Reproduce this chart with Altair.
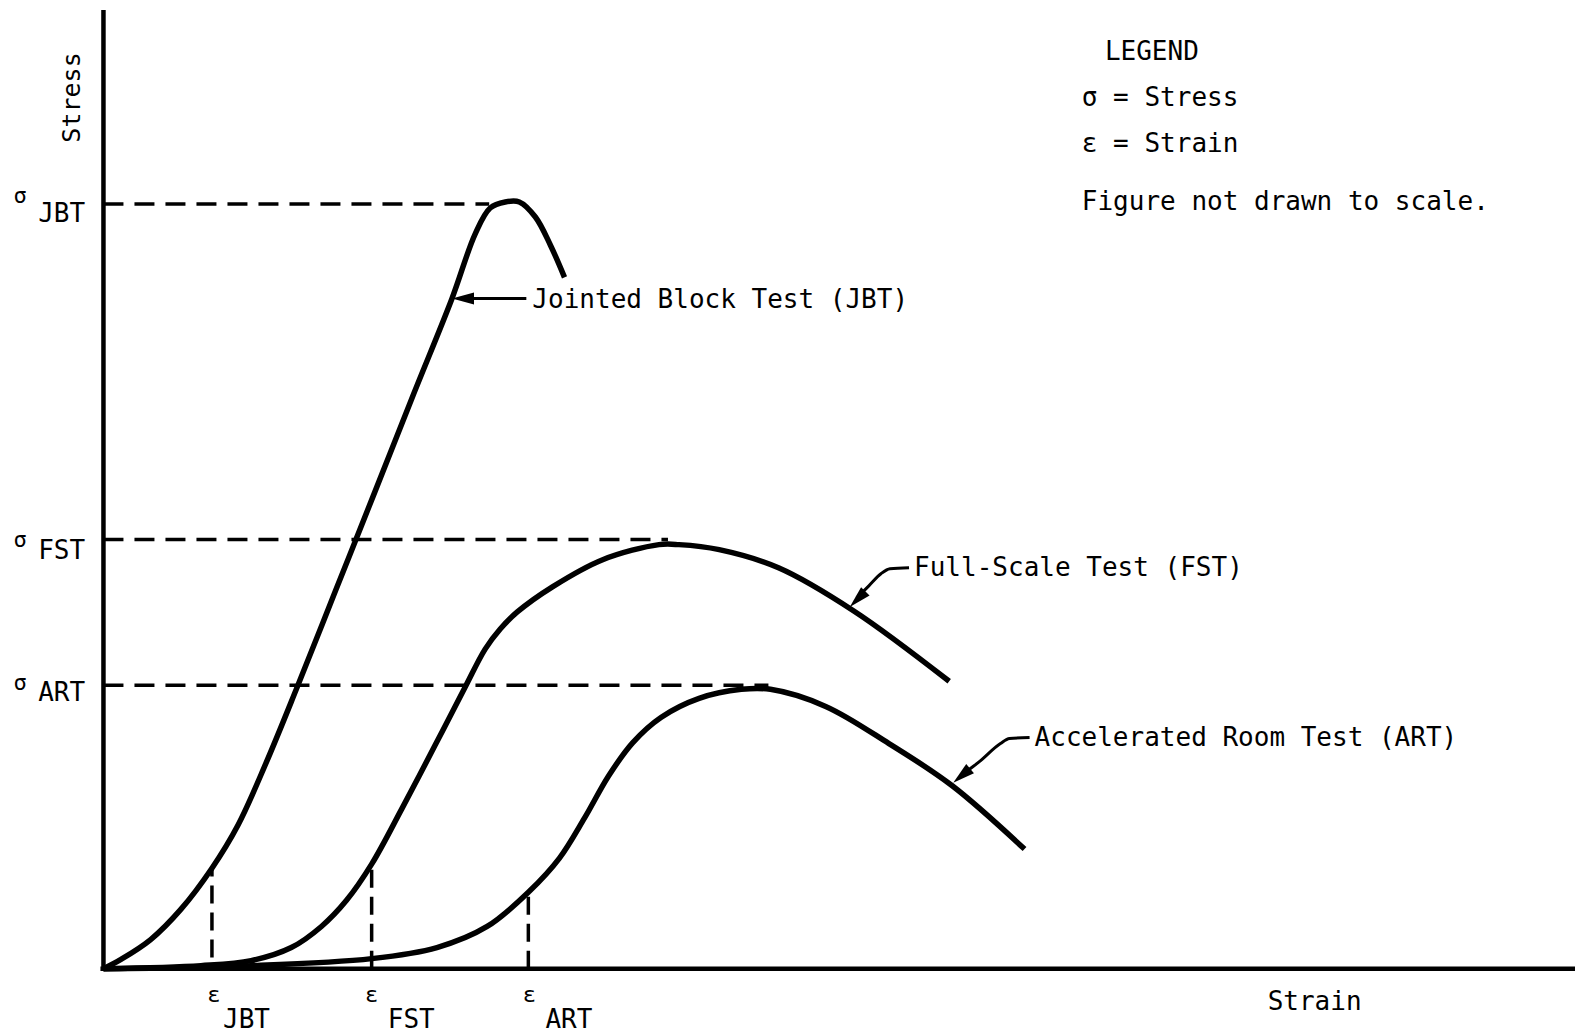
import altair as alt
import pandas as pd

# Schematic stress-strain curves, in drawing units (origin at the axes corner)
jbt_strain = [0, 17, 47, 77, 108, 134, 162, 192, 231, 270, 308, 347, 370, 385, 400, 414, 430, 445, 459]
jbt_stress = [0, 9, 29, 59, 100, 143, 205, 278, 376, 474, 570, 667, 731, 757, 763, 763, 748, 720, 688]

fst_strain = [0, 97, 147, 187, 217, 242, 267, 297, 330, 360, 380, 395, 412, 447, 497, 553, 573, 613, 672, 747, 842]
fst_stress = [0, 3, 8, 21, 42, 68, 104, 159, 222, 280, 318, 338, 355, 380, 407, 422, 422, 417, 399, 356, 286]

art_strain = [0, 147, 267, 332, 382, 424, 454, 479, 503, 527, 555, 593, 635, 664, 719, 782, 845, 917]
art_stress = [0, 3, 10, 21, 42, 77, 110, 150, 192, 225, 250, 269, 278, 278, 261, 224, 182, 119]

tests = ["JBT", "FST", "ART"]
peak_stress = [761, 427, 282]
peak_strain = [384, 562, 662]
eps_strain = [108, 267, 423]
eps_base = [11, 0, 0]
eps_top = [100, 104, 77]
curve_names = ["Jointed Block Test (JBT)", "Full-Scale Test (FST)", "Accelerated Room Test (ART)"]

FONT = "DejaVu Sans Mono"
X = alt.Scale(domain=[-103, 1465], nice=False, zero=False)
Y = alt.Scale(domain=[-67, 964], nice=False, zero=False)


def xy(x="x", y="y"):
    return dict(x=alt.X(f"{x}:Q", scale=X, axis=None), y=alt.Y(f"{y}:Q", scale=Y, axis=None))


curves = pd.concat([
    pd.DataFrame({"x": jbt_strain, "y": jbt_stress, "test": "JBT"}),
    pd.DataFrame({"x": fst_strain, "y": fst_stress, "test": "FST"}),
    pd.DataFrame({"x": art_strain, "y": art_stress, "test": "ART"}),
])

curve_layer = alt.Chart(curves).mark_line(
    color="black", strokeWidth=5.5, interpolate="catmull-rom"
).encode(**xy(), detail="test:N")

# Axes drawn as plain rules
axes_df = pd.DataFrame({"x": [0, -3], "x2": [0, 1465], "y": [-2, 0], "y2": [954, 0]})
axes_layer = alt.Chart(axes_df).mark_rule(color="black", strokeWidth=4.5).encode(
    **xy(), x2="x2:Q", y2="y2:Q"
)

# Dashed guides to peak stress and to strain marks
sig_df = pd.DataFrame({"x": [0] * 3, "x2": peak_strain, "y": peak_stress})
sig_layer = alt.Chart(sig_df).mark_rule(color="black", strokeWidth=3.5, strokeDash=[20, 11]).encode(
    **xy(), x2="x2:Q"
)
eps_df = pd.DataFrame({"x": eps_strain, "y": eps_base, "y2": eps_top})
eps_layer = alt.Chart(eps_df).mark_rule(color="black", strokeWidth=3.5, strokeDash=[18, 9]).encode(
    **xy(), y2="y2:Q"
)

# Leader lines from the curve names
leaders = pd.DataFrame({
    "x": [421, 362, 802, 783, 774, 762, 750, 922, 902, 893, 872, 859, 852],
    "y": [667, 667, 399, 398, 393, 381, 369, 230, 229, 224, 206, 196, 190],
    "g": ["a", "a", "b", "b", "b", "b", "b", "c", "c", "c", "c", "c", "c"],
})
leader_layer = alt.Chart(leaders).mark_line(color="black", strokeWidth=3, interpolate="monotone").encode(
    **xy(), detail="g:N"
)
heads = pd.DataFrame({"x": [347, 743, 846], "y": [667, 360, 185], "ang": [270, 225, 230]})
head_layer = alt.Chart(heads).mark_point(
    shape="M0,0L-0.6,2.2L0.6,2.2Z", filled=True, color="black", opacity=1, size=400, strokeWidth=0
).encode(**xy(), angle=alt.Angle("ang:Q", scale=None))

# Text annotations
big_text = pd.DataFrame({
    "x": [427, 807, 927, 997, 974, 974, 974, 1159,
          -65, -65, -65, 119, 283, 440],
    "y": [665, 399, 230, 912, 866, 821, 763, -33,
          751, 416, 274, -51, -51, -51],
    "t": curve_names + ["LEGEND", "σ = Stress", "ε = Strain", "Figure not drawn to scale.", "Strain"]
         + tests + tests,
})
big_layer = alt.Chart(big_text).mark_text(
    font=FONT, fontSize=26, align="left", baseline="middle", color="black"
).encode(**xy(), text="t:N")

small_text = pd.DataFrame({
    "x": [-83, -83, -83, 110, 267, 424],
    "y": [769, 427, 284, -26, -26, -26],
    "t": ["σ", "σ", "σ", "ε", "ε", "ε"],
})
small_layer = alt.Chart(small_text).mark_text(
    font=FONT, fontSize=22, align="center", baseline="middle", color="black"
).encode(**xy(), text="t:N")

stress_label = alt.Chart(pd.DataFrame({"x": [-31], "y": [867], "t": ["Stress"]})).mark_text(
    font=FONT, fontSize=25, angle=270, align="center", baseline="middle", color="black"
).encode(**xy(), text="t:N")

chart = alt.layer(
    sig_layer, eps_layer, curve_layer, axes_layer, leader_layer, head_layer,
    big_layer, small_layer, stress_label,
).properties(
    width=1575, height=1036, padding=0,
    autosize=alt.AutoSizeParams(type="none"),
    background="white",
).configure_view(stroke=None)

chart.save("out.html", embed_options={"renderer": "svg", "actions": False})
